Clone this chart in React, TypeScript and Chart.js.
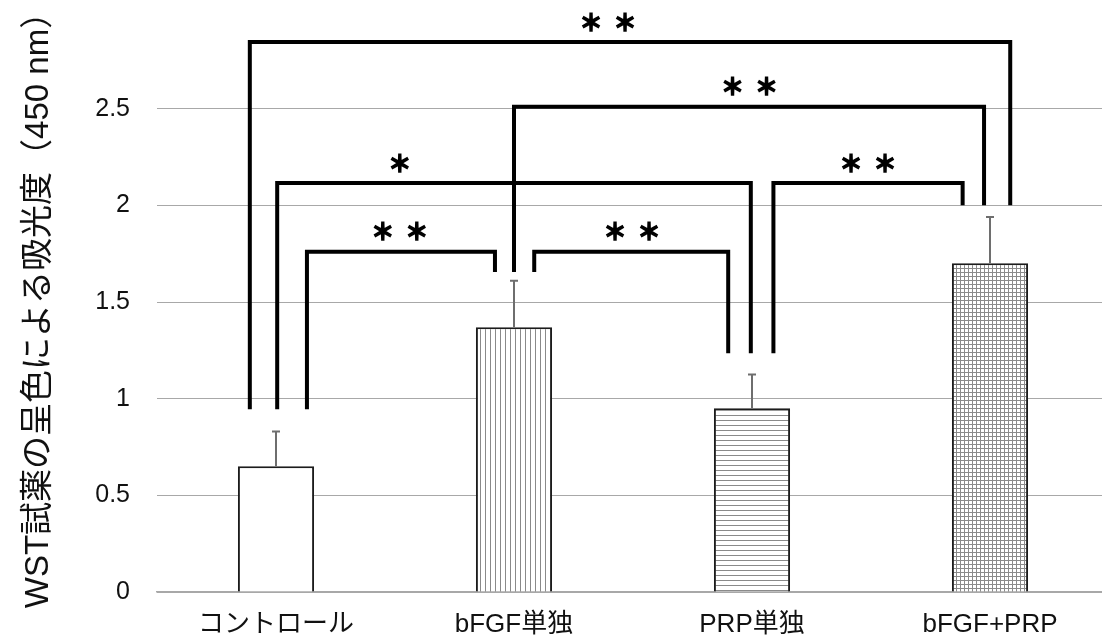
import React, { useEffect, useRef } from 'react';
import { Chart, registerables } from 'chart.js';

Chart.register(...registerables);

// ---- data ----
const categories = ['コントロール', 'bFGF単独', 'PRP単独', 'bFGF+PRP'];
const means = [0.65, 1.37, 0.95, 1.7];
const errors = [0.18, 0.24, 0.175, 0.24];
const yAxisTitle = 'WST試薬の呈色による吸光度（450 nm）';
const yMin = 0;
const yMax = 3;
const yStep = 0.5;

// significance brackets (category index positions, y values)
const bracketFrom = [-0.11, 1.0, 0.005, 2.09, 0.13, 1.085];
const bracketTo = [3.085, 2.975, 1.995, 2.885, 0.92, 1.9];
const bracketLevel = [2.845, 2.51, 2.115, 2.115, 1.76, 1.76];
const bracketFromEnd = [0.945, 1.655, 0.945, 1.235, 0.945, 1.655];
const bracketToEnd = [2.0, 2.0, 1.235, 2.0, 1.655, 1.235];
const bracketMarks = ['**', '**', '*', '**', '**', '**'];
const bracketMarkAt = [1.395, 1.99, 0.52, 2.487, 0.52, 1.496];

const fillKinds = ['none', 'v', 'h', 'grid'];

function makePattern(kind: string): CanvasPattern | string {
  if (kind === 'none') return '#ffffff';
  const c = document.createElement('canvas');
  const s = kind === 'grid' ? 4 : 5;
  c.width = s;
  c.height = s;
  const g = c.getContext('2d')!;
  g.fillStyle = '#ffffff';
  g.fillRect(0, 0, s, s);
  g.fillStyle = '#8a8a8a';
  if (kind === 'v' || kind === 'grid') g.fillRect(0, 0, 1, s);
  if (kind === 'h' || kind === 'grid') g.fillRect(0, 0, s, 1);
  return g.createPattern(c, 'repeat')!;
}

const errorBarPlugin = {
  id: 'errorBars',
  afterDatasetsDraw(chart: any) {
    const { ctx } = chart;
    const ys = chart.scales.y;
    const meta = chart.getDatasetMeta(0);
    ctx.save();
    ctx.strokeStyle = '#6e6e6e';
    ctx.lineWidth = 2;
    meta.data.forEach((bar: any, i: number) => {
      const x = Math.round(bar.x);
      const base = ys.getPixelForValue(means[i]);
      const top = ys.getPixelForValue(means[i] + errors[i]);
      ctx.beginPath();
      ctx.moveTo(x, base);
      ctx.lineTo(x, top);
      ctx.moveTo(x - 4, top);
      ctx.lineTo(x + 4, top);
      ctx.stroke();
    });
    ctx.restore();
  },
};

const bracketPlugin = {
  id: 'brackets',
  afterDraw(chart: any) {
    const { ctx } = chart;
    const xs = chart.scales.x;
    const ys = chart.scales.y;
    ctx.save();
    ctx.strokeStyle = '#000000';
    ctx.fillStyle = '#000000';
    ctx.lineJoin = 'miter';
    ctx.lineCap = 'butt';
    for (let i = 0; i < bracketFrom.length; i++) {
      const x1 = xs.getPixelForValue(bracketFrom[i]);
      const x2 = xs.getPixelForValue(bracketTo[i]);
      const yt = ys.getPixelForValue(bracketLevel[i]);
      const y1 = ys.getPixelForValue(bracketFromEnd[i]);
      const y2 = ys.getPixelForValue(bracketToEnd[i]);
      ctx.lineWidth = 4;
      ctx.beginPath();
      ctx.moveTo(x1, y1);
      ctx.lineTo(x1, yt);
      ctx.lineTo(x2, yt);
      ctx.lineTo(x2, y2);
      ctx.stroke();
      const n = bracketMarks[i].length;
      const cx = xs.getPixelForValue(bracketMarkAt[i]);
      ctx.font = "bold 23px 'Noto Sans CJK JP'";
      ctx.textAlign = 'center';
      ctx.textBaseline = 'middle';
      ctx.lineWidth = 1.6;
      for (let k = 0; k < n; k++) {
        const x = cx + (k - (n - 1) / 2) * 34;
        ctx.fillText('＊', x, yt - 20);
        ctx.strokeText('＊', x, yt - 20);
      }
    }
    ctx.restore();
  },
};

export default function App() {
  const ref = useRef<HTMLCanvasElement | null>(null);
  useEffect(() => {
    if (!ref.current) return;
    const chart = new Chart(ref.current, {
      type: 'bar',
      data: {
        labels: categories,
        datasets: [
          {
            data: means,
            backgroundColor: fillKinds.map(makePattern) as any,
            borderColor: '#1c1c1c',
            borderWidth: 2,
            categoryPercentage: 1,
            barPercentage: 0.32,
          },
        ],
      },
      options: {
        responsive: false,
        animation: false,
        devicePixelRatio: 1,
        layout: { padding: { top: 12, right: 1, left: 0, bottom: 0 } },
        plugins: {
          legend: { display: false },
          tooltip: { enabled: false },
        },
        scales: {
          x: {
            grid: { display: false, drawTicks: false },
            border: { display: true, color: '#a8a8a8', width: 1.5 },
            ticks: {
              padding: 17,
              color: '#111111',
              font: { size: 26, family: "'Liberation Sans', 'Noto Sans CJK JP', sans-serif" },
              maxRotation: 0,
            },
            afterFit: (s: any) => {
              s.height = 51;
              s.paddingLeft = 0;
              s.paddingRight = 0;
            },
          },
          y: {
            min: yMin,
            max: yMax,
            border: { display: false },
            grid: {
              color: '#a8a8a8',
              lineWidth: 1,
              drawTicks: false,
            },
            ticks: {
              stepSize: yStep,
              padding: 27,
              color: '#111111',
              font: { size: 25, family: "'Liberation Sans', sans-serif" },
              callback: (v: any) => (v >= yMax ? null : String(v)),
            },
            title: {
              display: true,
              text: yAxisTitle,
              color: '#111111',
              padding: { top: 19, bottom: 0 },
              font: { size: 33, family: "'Liberation Sans', 'Noto Sans CJK JP', sans-serif" },
            },
            afterFit: (s: any) => {
              s.width = 157;
              s.paddingTop = 0;
              s.paddingBottom = 0;
            },
          },
        },
      },
      plugins: [errorBarPlugin, bracketPlugin],
    });
    return () => chart.destroy();
  }, []);
  return (
    <div
      style={{
        position: 'fixed',
        left: 0,
        top: 0,
        width: 1102,
        height: 643,
        overflow: 'hidden',
        background: '#ffffff',
      }}
    >
      <canvas ref={ref} width={1110} height={643} style={{ width: 1110, height: 643, display: 'block' }} />
    </div>
  );
}
